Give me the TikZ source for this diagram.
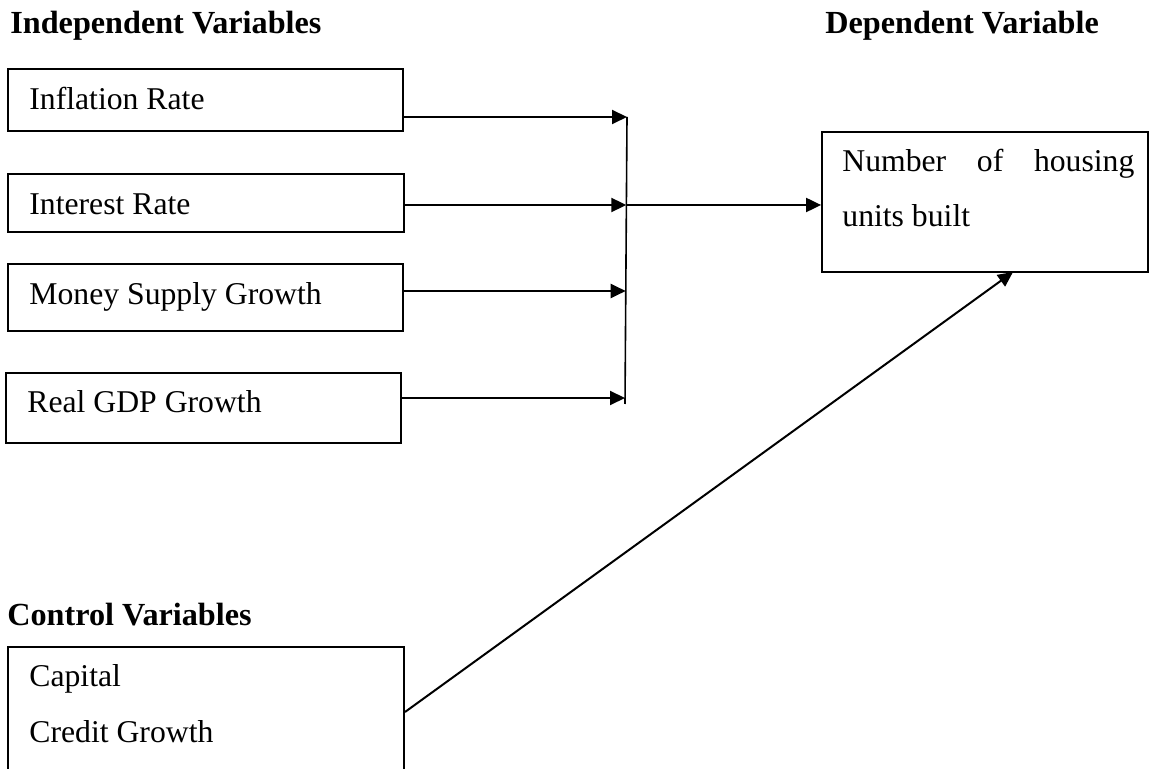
\documentclass[tikz,border=0pt]{standalone}
\usepackage{fontspec}
\setmainfont{Liberation Serif}
\usetikzlibrary{arrows.meta,fit}
\begin{document}
\begin{tikzpicture}[x=0.5pt,y=-0.5pt,
  box/.style={draw,line width=0.9pt,inner sep=0pt,rectangle},
  txt/.style={anchor=base west,inner sep=0pt,font=\fontsize{15.85pt}{19pt}\selectfont},
  head/.style={txt,font=\fontsize{16.1pt}{19pt}\selectfont\bfseries},
  conn/.style={line width=1pt,-{Triangle[length=7.5pt,width=7pt]}},
  plain/.style={line width=0.8pt}]
\useasboundingbox[fill=white] (0,0) rectangle (1151,769);
% headers
\node[head] (hind) at (10,34) {Independent Variables};
\node[head] (hdep) at (825,34) {Dependent Variable};
\node[head] (hctl) at (7,625) {Control Variables};
% boxes
\node[box,fit={(8,69) (403,131)}] (b1) {};
\node[box,fit={(8,174) (404,232)}] (b2) {};
\node[box,fit={(8,264) (403,331)}] (b3) {};
\node[box,fit={(6,373) (401,443)}] (b4) {};
\node[box,fit={(822,132) (1148,272)}] (num) {};
\node[box,fit={(8,647) (404,790)}] (ctl) {};
% texts
\node[txt] (t1) at (29,110) {Inflation Rate};
\node[txt] (t2) at (29,215) {Interest Rate};
\node[txt] (t3) at (29,305) {Money Supply Growth};
\node[txt] (t4) at (27,413) {Real GDP Growth};
\node[txt] (tn1) at (842,172) {\makebox[146pt][l]{Number\hfill of\hfill housing}};
\node[txt] (tn2) at (842,227) {units built};
\node[txt] (tc1) at (29,686) {Capital};
\node[txt] (tc2) at (29,742) {Credit Growth};
% junction coordinates
\coordinate (j1) at (627,117);
\coordinate (j2) at (626.3,205);
\coordinate (j3) at (625.7,291);
\coordinate (j4) at (625,398);
\coordinate (jb) at (625,404);
\coordinate (cs) at (405,712);
\coordinate (ct) at (1013,272);
% connectors
\draw[conn] (b1.east |- j1) -- (j1);
\draw[conn] (b2.east |- j2) -- (j2);
\draw[conn] (b3.east |- j3) -- (j3);
\draw[conn] (b4.east |- j4) -- (j4);
\draw[plain] (j1) -- (jb);
\draw[conn] (j2) -- (num.west |- j2);
\draw[conn] (cs) -- (ct);
\end{tikzpicture}
\end{document}
